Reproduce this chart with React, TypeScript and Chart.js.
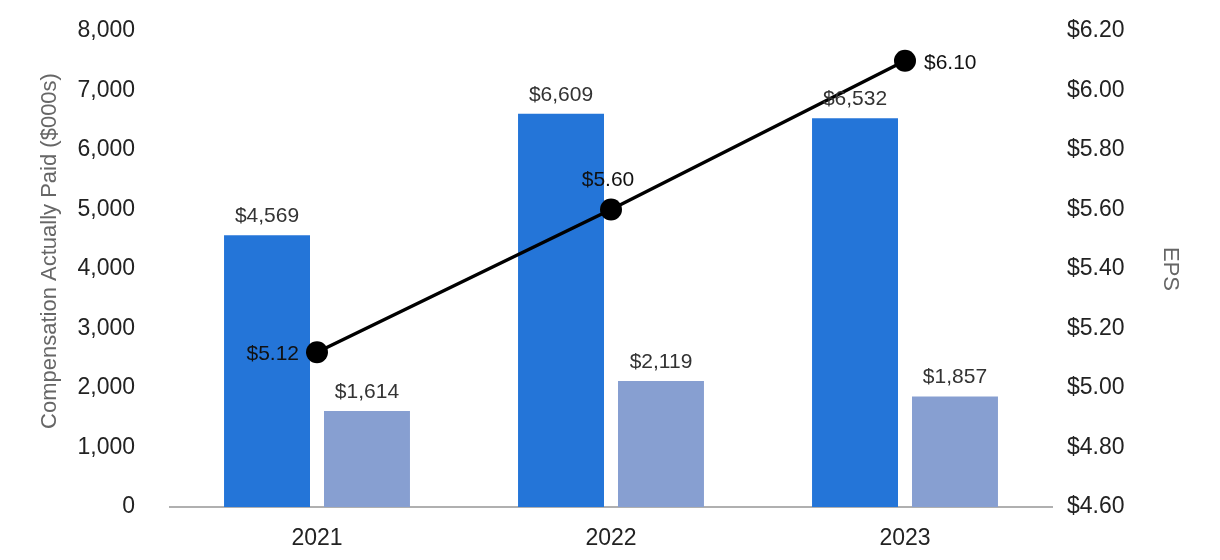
import React, { useEffect, useRef } from "react";
import { Chart, registerables } from "chart.js";

Chart.register(...registerables);

const categories = ["2021", "2022", "2023"];
const ceoCap = [4569, 6609, 6532];
const otherNeoCap = [1614, 2119, 1857];
const eps = [5.12, 5.6, 6.1];
const leftTitle = "Compensation Actually Paid ($000s)";
const rightTitle = "EPS";

const FONT = "'Liberation Sans', Arial, sans-serif";

const labelPlugin = {
  id: "valueLabels",
  afterDatasetsDraw(chart: any) {
    const ctx = chart.ctx;
    ctx.save();
    ctx.font = `21px ${FONT}`;
    chart.data.datasets.forEach((ds: any, di: number) => {
      const meta = chart.getDatasetMeta(di);
      meta.data.forEach((el: any, i: number) => {
        const v = ds.data[i];
        if (ds.type === "line") {
          const txt = "$" + v.toFixed(2);
          ctx.fillStyle = "#111";
          ctx.textBaseline = "middle";
          if (i === 0) {
            ctx.textAlign = "right";
            ctx.fillText(txt, el.x - 18, el.y + 2);
          } else if (i === 1) {
            ctx.textAlign = "center";
            ctx.fillText(txt, el.x - 3, el.y - 29);
          } else {
            ctx.textAlign = "left";
            ctx.fillText(txt, el.x + 19, el.y + 2);
          }
        } else {
          const txt = "$" + v.toLocaleString("en-US");
          ctx.fillStyle = "#333";
          ctx.textAlign = "center";
          ctx.textBaseline = "middle";
          ctx.fillText(txt, el.x, el.y - 19);
        }
      });
    });
    // left axis title
    const area = chart.chartArea;
    ctx.translate(50, (area.top + area.bottom) / 2 - 18);
    ctx.rotate(-Math.PI / 2);
    ctx.font = `22px ${FONT}`;
    ctx.fillStyle = "#666";
    ctx.textAlign = "center";
    ctx.textBaseline = "middle";
    ctx.fillText(leftTitle, 0, 0);
    ctx.restore();
  },
};

export default function App() {
  const ref = useRef<HTMLCanvasElement>(null);
  useEffect(() => {
    if (!ref.current) return;
    const chart = new Chart(ref.current, {
      type: "bar",
      data: {
        labels: categories,
        datasets: [
          {
            type: "line",
            label: "EPS",
            data: eps,
            yAxisID: "y1",
            borderColor: "#000",
            backgroundColor: "#000",
            borderWidth: 3.5,
            pointRadius: 11,
            pointBackgroundColor: "#000",
            pointBorderWidth: 0,
            order: 0,
          } as any,
          {
            type: "bar",
            label: "CEO",
            data: ceoCap,
            yAxisID: "y",
            backgroundColor: "#2475d8",
            categoryPercentage: 0.68,
            barPercentage: 0.86,
            order: 1,
          },
          {
            type: "bar",
            label: "Other NEOs",
            data: otherNeoCap,
            yAxisID: "y",
            backgroundColor: "#879fd1",
            categoryPercentage: 0.68,
            barPercentage: 0.86,
            order: 1,
          },
        ],
      },
      options: {
        animation: false,
        responsive: true,
        maintainAspectRatio: false,
        layout: { padding: { top: 31, left: 0, right: 0, bottom: 0 } },
        plugins: {
          legend: { display: false },
          tooltip: { enabled: false },
        },
        scales: {
          x: {
            grid: { display: false, drawTicks: false },
            border: { display: true, color: "#b0b0b0", width: 2 },
            ticks: { font: { family: FONT, size: 23 }, color: "#222", padding: 18 },
            afterFit: (s: any) => {
              s.height = 53;
            },
          },
          y: {
            position: "left",
            min: 0,
            max: 8000,
            grid: { display: false, drawTicks: false },
            border: { display: false },
            ticks: {
              stepSize: 1000,
              font: { family: FONT, size: 23 },
              color: "#222",
              padding: 35,
              callback: (v: any) => Number(v).toLocaleString("en-US"),
            },
            afterFit: (s: any) => {
              s.width = 170;
              s.paddingTop = 0;
              s.paddingBottom = 0;
            },
          },
          y1: {
            position: "right",
            min: 4.6,
            max: 6.2,
            grid: { display: false, drawTicks: false },
            border: { display: false },
            ticks: {
              stepSize: 0.2,
              font: { family: FONT, size: 23 },
              color: "#222",
              padding: 15,
              callback: (v: any) => "$" + Number(v).toFixed(2),
            },
            title: {
              display: true,
              text: rightTitle,
              color: "#666",
              font: { family: FONT, size: 22 },
              padding: { top: 37, bottom: 0 },
            },
            afterFit: (s: any) => {
              s.width = 168;
              s.paddingTop = 0;
              s.paddingBottom = 0;
            },
          },
        },
      },
      plugins: [labelPlugin],
    });
    return () => chart.destroy();
  }, []);
  return (
    <div style={{ position: "fixed", left: 0, top: 0, width: 1220, height: 560, background: "#fff" }}>
      <canvas ref={ref} />
    </div>
  );
}
